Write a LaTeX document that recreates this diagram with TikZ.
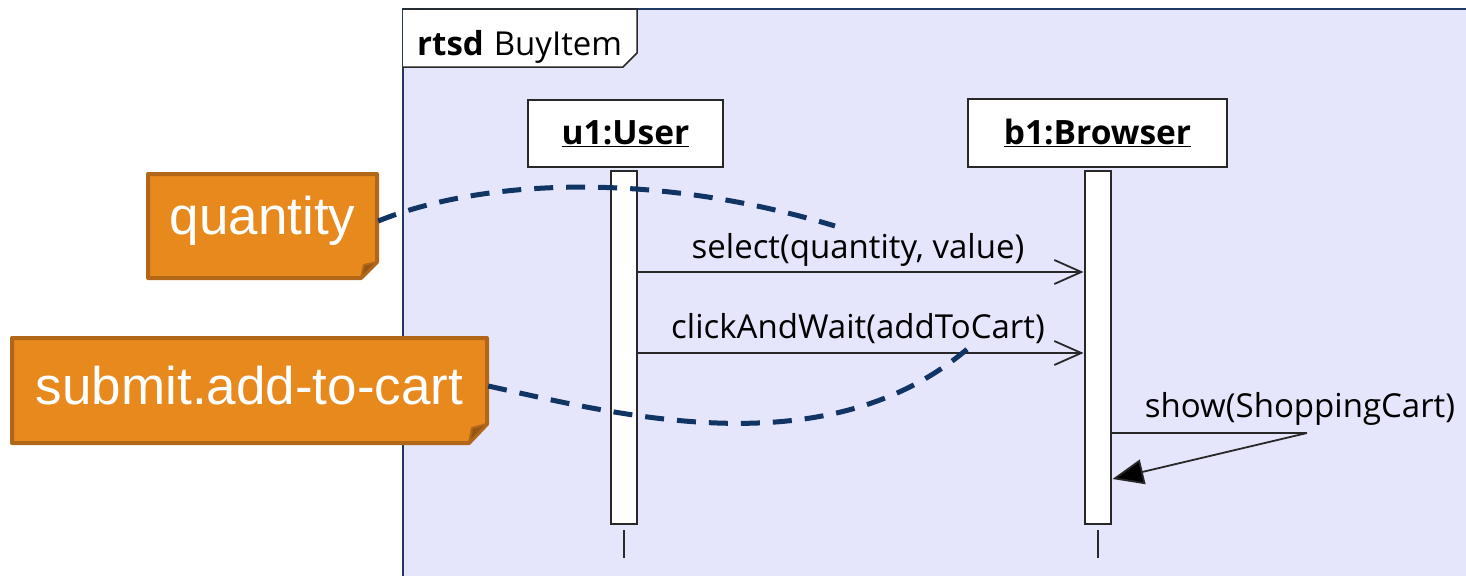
\documentclass[tikz,border=0pt]{standalone}
\usepackage{fontspec}
\setmainfont{Open Sans}
\newfontfamily\notefont{Liberation Sans}
\usetikzlibrary{arrows.meta}
\definecolor{lav}{RGB}{229,229,252}
\definecolor{framec}{RGB}{31,56,100}
\definecolor{dashc}{RGB}{16,52,99}
\definecolor{noteorange}{RGB}{232,137,30}
\definecolor{noteborder}{RGB}{178,102,24}
\definecolor{linec}{RGB}{40,40,40}
\tikzset{
  umltext/.style={font=\fontsize{33}{40}\selectfont, inner sep=0pt},
  headbox/.style={draw=linec, line width=2pt, fill=white, inner sep=0pt,
    font=\fontsize{33.5}{40}\selectfont\bfseries},
  actbar/.style={draw=linec, line width=2pt, fill=white, minimum width=26pt, minimum height=353pt, inner sep=0pt},
  lifeline/.style={draw=linec, line width=2pt},
  msg/.style={draw=linec, line width=1.8pt, -{Straight Barb[length=27pt,width=24pt]}},
  reply/.style={draw=linec, line width=1.8pt},
  notebody/.style={fill=noteorange, draw=noteborder, line width=4pt, line join=round},
  notefold/.style={fill=noteborder!85!black, draw=noteborder, line width=2pt, line join=round},
  notetext/.style={text=white, font=\notefont\fontsize{53}{60}\selectfont, inner sep=0pt},
  link/.style={draw=dashc, line width=5pt, dash pattern=on 19pt off 13pt},
}
\begin{document}
\begin{tikzpicture}[x=1pt,y=-1pt]
\useasboundingbox (0,0) rectangle (1466,576);
% frame
\fill[lav] (403,9) rectangle (1466,576);
\draw[framec, line width=2.5pt] (403,576) -- (403,9) -- (1466,9);
% tab
\draw[fill=white, draw=linec, line width=1.5pt] (403,9) -- (637,9) -- (637,53) -- (623,67) -- (403,67);
\node[umltext, anchor=base west] (title) at (417,55) {\textbf{rtsd}\hspace{10pt}BuyItem};
% lifeline heads
\node[headbox, minimum width=195pt, minimum height=67pt] (u1) at (625.5,133.5) {\underline{u1:User}};
\node[headbox, minimum width=259pt, minimum height=68pt] (b1) at (1097.5,133) {\underline{b1:Browser}};
% activation bars
\node[actbar] (ua) at (624,347.5) {};
\node[actbar] (ba) at (1097.5,347.5) {};
\coordinate (ustub) at (624,558);
\coordinate (bstub) at (1097.5,558);
\draw[lifeline] ([yshift=-5pt]ua.south) -- (ustub);
\draw[lifeline] ([yshift=-5pt]ba.south) -- (bstub);
% messages
\draw[msg] (ua.east |- 0,272) -- (ba.west |- 0,272);
\node[umltext, anchor=base] (m1) at (858,258) {select(quantity, value)};
\draw[msg] (ua.east |- 0,353) -- (ba.west |- 0,353);
\node[umltext, anchor=base] (m2) at (858,338) {clickAndWait(addToCart)};
\coordinate (sc) at (1307,433);
\draw[reply] (ba.east |- 0,433) -- (sc);
\draw[reply, -{Triangle[length=31pt,width=25pt,fill=black]}] (sc) -- ([xshift=1pt]ba.east |- 0,479);
\node[umltext, anchor=base] (m3) at (1300,417) {show(ShoppingCart)};
% notes
\path[notebody] (148,174) -- (377,174) -- (377,262) -- (361,278) -- (148,278) -- cycle;
\path[notefold] (377,262) -- (364,265) -- (361,278) -- cycle;
\node[notetext, minimum width=229pt, minimum height=104pt] (qn) at (262.5,221) {quantity};
\path[notebody] (12,338) -- (487,338) -- (487,424) -- (469,443) -- (12,443) -- cycle;
\path[notefold] (487,424) -- (472,428) -- (469,443) -- cycle;
\node[notetext, minimum width=475pt, minimum height=104pt] (sn) at (249.5,386) {submit.add-to-cart};
% links
\coordinate (qe) at (835,226);
\coordinate (se) at (972,345);
\draw[link] ([xshift=1pt]qn.east) .. controls (480,180) and (650,170) .. (qe);
\draw[link] ([xshift=1pt]sn.east) .. controls (620,415) and (830,470) .. (se);
\end{tikzpicture}
\end{document}
